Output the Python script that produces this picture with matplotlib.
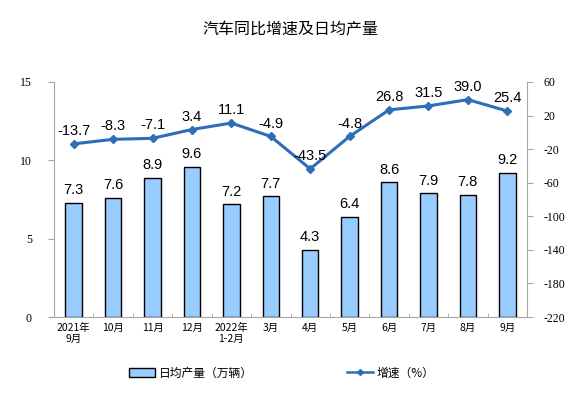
import matplotlib
matplotlib.use("Agg")
import matplotlib.pyplot as plt
from matplotlib.lines import Line2D
import numpy as np

plt.rcParams['font.family'] = ['Liberation Sans', 'Noto Sans CJK SC', 'DejaVu Sans']

categories = ["2021年\n9月", "10月", "11月", "12月", "2022年\n1-2月", "3月", "4月",
              "5月", "6月", "7月", "8月", "9月"]
daily_output = [7.3, 7.6, 8.9, 9.6, 7.2, 7.7, 4.3, 6.4, 8.6, 7.9, 7.8, 9.2]
growth = [-13.7, -8.3, -7.1, 3.4, 11.1, -4.9, -43.5, -4.8, 26.8, 31.5, 39.0, 25.4]
left_ticks = [0, 5, 10, 15]
right_ticks = [60, 20, -20, -60, -100, -140, -180, -220]

W, H = 575, 396
fig = plt.figure(figsize=(W / 100, H / 100), dpi=100)
ax = fig.add_axes([54 / W, 1 - 317 / H, (527 - 54) / W, (317 - 82) / H])
x = np.arange(len(categories))

bar_color = "#99CCFF"
line_color = "#2E6DB8"
grid_gray = "#A6A6A6"

ax.bar(x, daily_output, width=0.42, color=bar_color, edgecolor="black",
       linewidth=1.0, label="日均产量（万辆）", zorder=2)
for xi, v in zip(x, daily_output):
    ax.text(xi, v + 0.35, f"{v:.1f}", ha="center", va="bottom", fontsize=10.5,
            family=['Liberation Sans'])

ax.set_xlim(-0.5, len(categories) - 0.5)
ax.set_ylim(0, 15)
ax.set_yticks(left_ticks)
ax.set_yticklabels([str(t) for t in left_ticks], family=['Liberation Serif'], fontsize=8.5)
ax.set_xticks(x)
ax.set_xticklabels(categories, family=['Noto Sans CJK SC'], fontsize=7.5, linespacing=1.2)
ax.set_xticks(np.arange(-0.5, len(categories), 1), minor=True)
ax.tick_params(axis='x', which='major', length=0, pad=4)
ax.tick_params(axis='x', which='minor', length=3, color=grid_gray, direction='in')
ax.tick_params(axis='y', length=4, color=grid_gray, pad=12)
for s in ["top", "right"]:
    ax.spines[s].set_visible(False)
ax.spines["left"].set_color(grid_gray)
ax.spines["bottom"].set_color(grid_gray)

ax2 = ax.twinx()
ax2.plot(x, growth, color=line_color, linewidth=2.2, marker="D", markersize=4,
         label="增速（%）", zorder=3)
for xi, v in zip(x, growth):
    ax2.text(xi, v + 7, f"{v:.1f}", ha="center", va="bottom", fontsize=10.5,
             family=['Liberation Sans'])
ax2.set_ylim(-220, 60)
ax2.set_yticks(right_ticks)
ax2.set_yticklabels([str(t) for t in right_ticks], family=['Liberation Serif'], fontsize=8.5)
ax2.tick_params(axis='y', length=4, color=grid_gray, pad=8)
for s in ["top", "left", "bottom"]:
    ax2.spines[s].set_visible(False)
ax2.spines["right"].set_color(grid_gray)

fig.text(0.505, 1 - 30 / H, "汽车同比增速及日均产量", ha="center", va="center",
         fontsize=11.5, family=['Noto Sans CJK SC'])

h1, l1 = ax.get_legend_handles_labels()
line_handle = Line2D([], [], color=line_color, linewidth=1.8, marker="D", markersize=3)
fig.legend(h1 + [line_handle], l1 + ["增速（%）"], loc="center",
           bbox_to_anchor=(0.49, 1 - 373 / H),
           ncol=2, frameon=False, columnspacing=8, handlelength=2.2,
           handletextpad=0.3, prop={'family': ['Noto Sans CJK SC'], 'size': 8.5})

fig.savefig("out.png", dpi=100)
